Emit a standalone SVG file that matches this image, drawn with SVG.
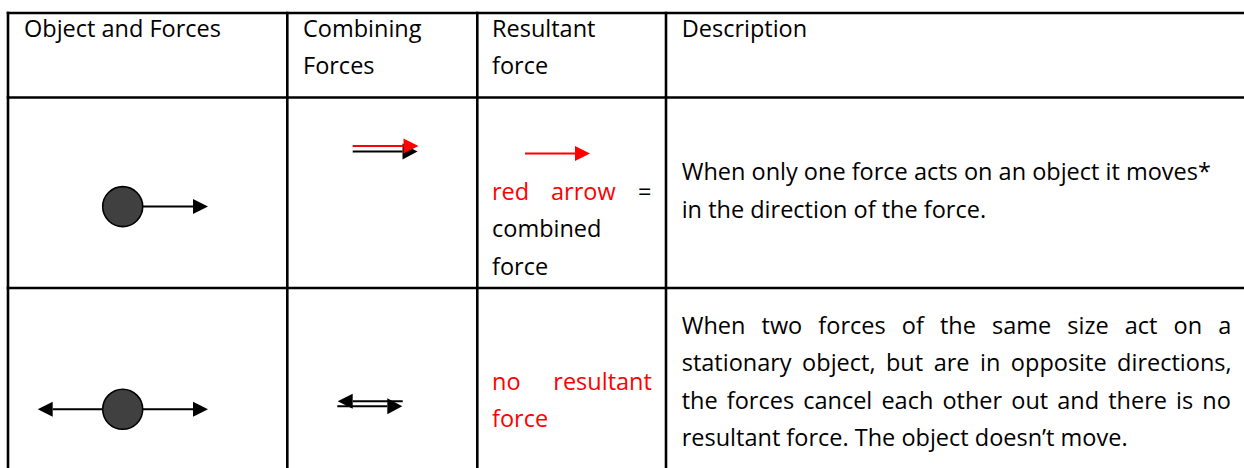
<svg xmlns="http://www.w3.org/2000/svg" width="1244" height="468" viewBox="0 0 1244 468">
<defs>
<style>
.grid{stroke:#000;stroke-width:2.6;fill:none}
.t{font-family:"Open Sans","Liberation Sans",sans-serif;font-size:23.5px;fill:#000}
.r{fill:#ff0000}
.ln{stroke:#000;stroke-width:2;fill:none}
.lr{stroke:#ff0000;stroke-width:2;fill:none}
.ball{fill:#404040;stroke:#000;stroke-width:1.6}
</style>
<marker id="hb" markerUnits="userSpaceOnUse" markerWidth="16" markerHeight="16" refX="0" refY="7.5" orient="auto" viewBox="0 0 16 16" overflow="visible">
<path d="M0,0 L15,7.5 L0,15 Z" fill="#000"/>
</marker>
<marker id="hr" markerUnits="userSpaceOnUse" markerWidth="16" markerHeight="16" refX="0" refY="7.5" orient="auto" viewBox="0 0 16 16" overflow="visible">
<path d="M0,0 L15,7.5 L0,15 Z" fill="#ff0000"/>
</marker>
<marker id="hb16" markerUnits="userSpaceOnUse" markerWidth="16" markerHeight="17" refX="0" refY="8" orient="auto" viewBox="0 0 16 17" overflow="visible">
<path d="M0,0 L15,8 L0,16 Z" fill="#000"/>
</marker>
</defs>
<rect width="1244" height="468" fill="#fff"/>
<g id="table">
<line class="grid" x1="6.7" y1="13" x2="1244" y2="13"/>
<line class="grid" x1="6.7" y1="97.5" x2="1244" y2="97.5"/>
<line class="grid" x1="6.7" y1="288" x2="1244" y2="288"/>
<line class="grid" x1="8" y1="11.7" x2="8" y2="468"/>
<line class="grid" x1="287.3" y1="11.7" x2="287.3" y2="468"/>
<line class="grid" x1="477.3" y1="11.7" x2="477.3" y2="468"/>
<line class="grid" x1="666" y1="11.7" x2="666" y2="468"/>
</g>
<g id="headers">
<text class="t" x="24" y="36.5">Object and Forces</text>
<text class="t" x="303" y="36.5">Combining</text>
<text class="t" x="303" y="74">Forces</text>
<text class="t" x="492" y="36.5">Resultant</text>
<text class="t" x="492" y="74">force</text>
<text class="t" x="681.7" y="36.5">Description</text>
</g>
<g id="row1-object">
<circle class="ball" cx="122.7" cy="206.6" r="20"/>
</g>
<g id="row1-resultant">
<text class="t" y="200"><tspan class="r" x="492">red</tspan><tspan class="r" x="551">arrow</tspan><tspan x="638">=</tspan></text>
<text class="t" x="492" y="237">combined</text>
<text class="t" x="492" y="274.5">force</text>
</g>
<g id="row1-description">
<text class="t" x="681.7" y="180">When only one force acts on an object it moves*</text>
<text class="t" x="681.7" y="217.6">in the direction of the force.</text>
</g>
<g id="row2-object">
<circle class="ball" cx="122.7" cy="409.3" r="20"/>
</g>
<g id="row2-resultant">
<text class="t r" y="389.5"><tspan x="492">no</tspan><tspan x="553.3">resultant</tspan></text>
<text class="t r" x="492" y="427">force</text>
</g>
<g id="row2-description">
<text class="t" x="681.7" y="333.5" word-spacing="10">When two forces of the same size act on a</text>
<text class="t" x="681.7" y="371" word-spacing="4.4">stationary object, but are in opposite directions,</text>
<text class="t" x="681.7" y="408.6" word-spacing="3">the forces cancel each other out and there is no</text>
<text class="t" x="681.7" y="446.2">resultant force. The object doesn’t move.</text>
</g>
<g id="connectors">
<line class="ln" x1="142.7" y1="206.6" x2="193" y2="206.6" marker-end="url(#hb)"/>
<line class="ln" x1="142.7" y1="409.3" x2="193" y2="409.3" marker-end="url(#hb)"/>
<line class="ln" x1="102.7" y1="409.3" x2="52.7" y2="409.3" marker-end="url(#hb)"/>
<line class="ln" x1="352.7" y1="151.5" x2="402.5" y2="151.5" marker-end="url(#hb16)"/>
<line class="lr" x1="352.7" y1="146" x2="403.5" y2="146" marker-end="url(#hr)"/>
<line class="lr" x1="525" y1="153.5" x2="575" y2="153.5" marker-end="url(#hr)"/>
<line class="ln" x1="402.7" y1="401.3" x2="352.7" y2="401.3" marker-end="url(#hb)"/>
<line class="ln" x1="337.3" y1="406.3" x2="387.3" y2="406.3" marker-end="url(#hb16)"/>
</g>
</svg>
